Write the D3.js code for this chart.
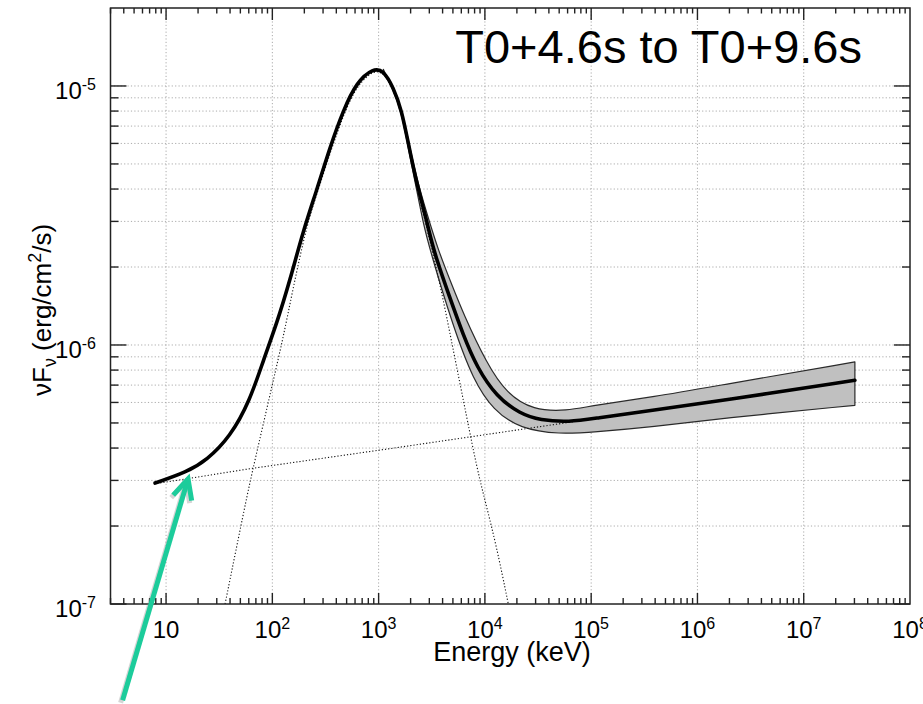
<!DOCTYPE html>
<html>
<head>
<meta charset="utf-8">
<script src="https://cdn.jsdelivr.net/npm/d3@7/dist/d3.min.js"></script>
<style>
  html, body { margin: 0; padding: 0; background: #fff; }
  svg { display: block; font-family: "Liberation Sans", Arial, Helvetica, sans-serif; }
</style>
</head>
<body>
<svg id="chart" width="923" height="704"></svg>
<script>
// ---------------- data ----------------
const titleText = "T0+4.6s to T0+9.6s";
const xLabel = "Energy (keV)";

const xMajorTicks = [1e1, 1e2, 1e3, 1e4, 1e5, 1e6, 1e7, 1e8];
const xTickLabels = ["10", "10|2", "10|3", "10|4", "10|5", "10|6", "10|7", "10|8"];
const yMajorTicks = [1e-7, 1e-6, 1e-5];
const yTickLabels = ["10|-7", "10|-6", "10|-5"];

// total model (Band + power law), keV vs erg/cm2/s
const totalE = [7.88, 15.65, 24.1, 40.0, 61.7, 82.3, 110, 146.7, 195.6, 261.6, 349, 465.6, 622, 891, 1107, 1374, 1648, 1903, 2282, 2835, 3270, 4696, 6264, 8373, 12910, 21380, 33000, 63200, 104700, 384000, 1.628e6, 3.03e7];
const totalF = [2.93e-7, 3.23e-7, 3.59e-7, 4.41e-7, 6.12e-7, 8.73e-7, 1.21e-6, 1.78e-6, 2.77e-6, 3.96e-6, 5.81e-6, 8.06e-6, 1.036e-5, 1.17e-5, 1.15e-5, 9.9e-6, 8.06e-6, 5.99e-6, 4.20e-6, 3.03e-6, 2.32e-6, 1.515e-6, 1.09e-6, 8.22e-7, 6.30e-7, 5.43e-7, 5.12e-7, 5.04e-7, 5.20e-7, 5.60e-7, 6.08e-7, 7.31e-7];

// error contour
const upperE = [1107, 1649, 1903, 2282, 2835, 3645, 4696, 6264, 10400, 16040, 28540, 58820, 104700, 384000, 1.628e6, 3.03e7];
const upperF = [1.16e-5, 8.20e-6, 6.17e-6, 4.40e-6, 3.23e-6, 2.32e-6, 1.78e-6, 1.32e-6, 8.48e-7, 6.49e-7, 5.60e-7, 5.56e-7, 5.85e-7, 6.30e-7, 6.99e-7, 8.60e-7];
const lowerE = [1107, 1374, 1648, 1903, 2282, 2617, 3045, 5043, 7779, 12000, 21390, 50880, 104700, 384000, 1.628e6, 3.03e7];
const lowerF = [1.14e-5, 9.71e-6, 7.84e-6, 5.75e-6, 3.96e-6, 2.98e-6, 2.32e-6, 1.17e-6, 7.31e-7, 5.60e-7, 4.75e-7, 4.52e-7, 4.61e-7, 4.83e-7, 5.20e-7, 5.85e-7];

// Band component (dotted)
const bandE = [35.9, 57.4, 66.3, 102.2, 126.9, 157.6, 210.6, 269, 356.6, 472.7, 626.4, 891, 1107, 1374, 1648, 1903, 2282, 2835, 3781, 5043, 6743, 8373, 10020, 12910, 16600];
const bandF = [1.0e-7, 2.59e-7, 3.38e-7, 7.31e-7, 1.074e-6, 1.675e-6, 2.90e-6, 3.96e-6, 5.65e-6, 7.84e-6, 1.006e-5, 1.15e-5, 1.13e-5, 9.75e-6, 7.91e-6, 5.85e-6, 4.03e-6, 2.85e-6, 1.73e-6, 9.54e-7, 5.27e-7, 3.38e-7, 2.51e-7, 1.66e-7, 1.0e-7];

// power-law component (dotted)
const plE = [8.23, 61.7, 1280, 84300, 3.03e7];
const plF = [2.92e-7, 3.33e-7, 3.98e-7, 5.12e-7, 7.32e-7];

// annotation arrow (tip / tail in data units)
const arrowTip = [16.1, 3.04e-7];
const arrowTail = [3.9, 4.25e-8];

// ---------------- drawing ----------------
const svg = d3.select("#chart");
const x = d3.scaleLog().domain([3, 1e8]).range([110.5, 910]);
const y = d3.scaleLog().domain([1e-7, 2e-5]).range([604, 8]);
const X0 = x.range()[0], X1 = x.range()[1], Y0 = y.range()[0], Y1 = y.range()[1];

const zip = (a, b) => a.map((v, i) => [v, b[i]]);

// minor ticks
const xMinor = [];
for (let k = 0; k <= 7; k++) for (let m = 2; m <= 9; m++) {
  const v = m * Math.pow(10, k);
  if (v >= 3 && v < 1e8) xMinor.push(v);
}
const yMinor = [];
for (let k = -7; k <= -5; k++) for (let m = 2; m <= 9; m++) {
  const v = m * Math.pow(10, k);
  if (v > 1e-7 && v < 2e-5) yMinor.push(v);
}

// grid
const grid = svg.append("g").attr("stroke", "#ababab").attr("stroke-width", 1).attr("stroke-dasharray", "1.2,2.2");
grid.selectAll("line.vx").data(xMajorTicks.filter(v => v < 1e8)).join("line")
  .attr("x1", d => x(d)).attr("x2", d => x(d)).attr("y1", Y0).attr("y2", Y1);
grid.selectAll("line.hy").data(yMajorTicks.concat(yMinor).filter(v => v > 1e-7)).join("line")
  .attr("x1", X0).attr("x2", X1).attr("y1", d => y(d)).attr("y2", d => y(d));

// uncertainty band
const smooth = d3.line().x(d => x(d[0])).y(d => y(d[1])).curve(d3.curveBasis);
const upperPath = smooth(zip(upperE, upperF));
const lowerRev = smooth(zip(lowerE, lowerF).reverse());
svg.append("path")
  .attr("d", upperPath + "L" + lowerRev.slice(1) + "Z")
  .attr("fill", "#c0c0c0").attr("stroke", "#2a2a2a").attr("stroke-width", 1.2).attr("stroke-linejoin", "round");

// dotted components
svg.append("path").attr("d", smooth(zip(bandE, bandF)))
  .attr("fill", "none").attr("stroke", "#111").attr("stroke-width", 1.1).attr("stroke-dasharray", "1.2,2");
svg.append("path").attr("d", d3.line().x(d => x(d[0])).y(d => y(d[1]))(zip(plE, plF)))
  .attr("fill", "none").attr("stroke", "#111").attr("stroke-width", 1.1).attr("stroke-dasharray", "1.2,2");

// total model
svg.append("path").attr("d", smooth(zip(totalE, totalF)))
  .attr("fill", "none").attr("stroke", "#000").attr("stroke-width", 3.6)
  .attr("stroke-linejoin", "round").attr("stroke-linecap", "round");

// frame
svg.append("rect").attr("x", X0).attr("y", Y1).attr("width", X1 - X0).attr("height", Y0 - Y1)
  .attr("fill", "none").attr("stroke", "#222").attr("stroke-width", 1.5);

// ticks
const tk = svg.append("g").attr("stroke", "#222").attr("stroke-width", 1.4);
tk.selectAll("line.xbM").data(xMajorTicks.filter(v => v < 1e8)).join("line")
  .attr("x1", d => x(d)).attr("x2", d => x(d)).attr("y1", Y0).attr("y2", Y0 - 11);
tk.selectAll("line.xbm").data(xMinor).join("line")
  .attr("x1", d => x(d)).attr("x2", d => x(d)).attr("y1", Y0).attr("y2", Y0 - 6);
tk.selectAll("line.xtM").data(xMajorTicks.filter(v => v < 1e8)).join("line")
  .attr("x1", d => x(d)).attr("x2", d => x(d)).attr("y1", Y1).attr("y2", Y1 + 12);
tk.selectAll("line.xtm").data(xMinor).join("line")
  .attr("x1", d => x(d)).attr("x2", d => x(d)).attr("y1", Y1).attr("y2", Y1 + 5.5);
tk.selectAll("line.ylM").data(yMajorTicks).join("line")
  .attr("x1", X0).attr("x2", X0 + 16).attr("y1", d => y(d)).attr("y2", d => y(d));
tk.selectAll("line.ylm").data(yMinor).join("line")
  .attr("x1", X0).attr("x2", X0 + 8).attr("y1", d => y(d)).attr("y2", d => y(d));
tk.selectAll("line.yrM").data(yMajorTicks).join("line")
  .attr("x1", X1).attr("x2", X1 - 16).attr("y1", d => y(d)).attr("y2", d => y(d));
tk.selectAll("line.yrm").data(yMinor).join("line")
  .attr("x1", X1).attr("x2", X1 - 8).attr("y1", d => y(d)).attr("y2", d => y(d));

// tick labels
function powLabel(sel, lbl) {
  const parts = lbl.split("|");
  sel.append("tspan").text(parts[0]);
  if (parts[1]) sel.append("tspan").attr("dy", -9).attr("font-size", 16).text(parts[1]);
}
xMajorTicks.forEach((v, i) => {
  const t = svg.append("text").attr("x", x(v)).attr("y", Y0 + 34)
    .attr("text-anchor", "middle").attr("font-size", 24).attr("fill", "#000");
  powLabel(t, xTickLabels[i]);
});
yMajorTicks.forEach((v, i) => {
  const t = svg.append("text").attr("x", 96).attr("y", y(v) + 13)
    .attr("text-anchor", "end").attr("font-size", 24).attr("fill", "#000");
  powLabel(t, yTickLabels[i]);
});

// axis labels
svg.append("text").attr("x", 512).attr("y", 661).attr("text-anchor", "middle")
  .attr("font-size", 27).attr("fill", "#000").text(xLabel);

const yl = svg.append("text").attr("transform", "translate(51,396) rotate(-90)")
  .attr("text-anchor", "start").attr("font-size", 26).attr("fill", "#000");
yl.append("tspan").text("νF");
yl.append("tspan").attr("dy", 5).attr("font-size", 18).text("ν");
yl.append("tspan").attr("dy", -5).text(" (erg/cm");
yl.append("tspan").attr("dy", -10).attr("font-size", 18).text("2");
yl.append("tspan").attr("dy", 10).text("/s)");

// title
svg.append("text").attr("x", 862).attr("y", 63).attr("text-anchor", "end")
  .attr("font-size", 47).attr("fill", "#000").text(titleText);

// arrow
const tip = [x(arrowTip[0]), y(arrowTip[1])];
const tail = [x(arrowTail[0]), y(arrowTail[1])];
const ang = Math.atan2(tail[1] - tip[1], tail[0] - tip[0]);
const L = 22, phi = 26 * Math.PI / 180;
const armA = [tip[0] + L * Math.cos(ang + phi), tip[1] + L * Math.sin(ang + phi)];
const armB = [tip[0] + L * Math.cos(ang - phi), tip[1] + L * Math.sin(ang - phi)];
function drawArrow(g, dx, dy, color) {
  g.append("line").attr("x1", tail[0] + dx).attr("y1", tail[1] + dy).attr("x2", tip[0] + dx).attr("y2", tip[1] + dy);
  g.append("polyline").attr("points", [armA, tip, armB].map(p => (p[0] + dx) + "," + (p[1] + dy)).join(" "));
  g.attr("stroke", color).attr("stroke-width", 5).attr("fill", "none")
    .attr("stroke-linecap", "butt").attr("stroke-linejoin", "miter");
}
drawArrow(svg.append("g").attr("opacity", 0.35), -2, 2.5, "#888");
drawArrow(svg.append("g"), 0, 0, "#1ccc9b");
</script>
</body>
</html>
